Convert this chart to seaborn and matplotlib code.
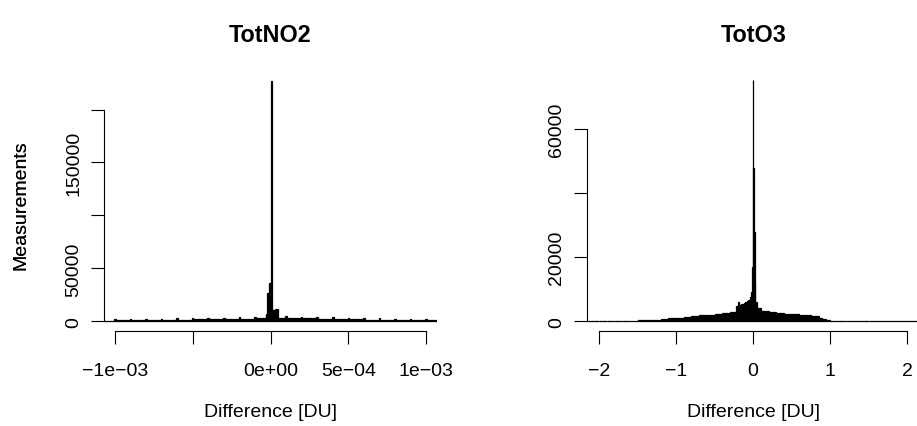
import numpy as np
import pandas as pd
import matplotlib
matplotlib.use("Agg")
import matplotlib.pyplot as plt
import seaborn as sns

# histogram bins (edges) and counts
no2_edges = [
    -0.0011, -0.001005, -0.000995, -0.000905, -0.000895, -0.000805, -0.000795,
    -0.000705, -0.000695, -0.000605, -0.000595, -0.000505, -0.000495,
    -0.000405, -0.000395, -0.000305, -0.000295, -0.000205, -0.000195,
    -0.000105, -0.000095,
    -0.00003, -0.00002, -0.00001, 0.0, 0.000007, 0.00003, 0.00005,
    0.000095, 0.000105, 0.000195, 0.000205, 0.000295, 0.000305,
    0.000395, 0.000405, 0.000495, 0.000505, 0.000595, 0.000605,
    0.000695, 0.000705, 0.000795, 0.000805, 0.000895, 0.000905,
    0.000995, 0.001005, 0.0011,
]
no2_counts = [
    600, 1800, 800, 2000, 1000, 2200, 1200, 2400, 1400, 2700,
    1600, 2900, 1800, 3200, 2000, 3500, 2300, 3800, 2600, 4500,
    2900, 7000, 27000, 36000, 227000, 11000, 12000, 3300,
    5000, 3000, 4300, 2700, 3900, 2400, 3600, 2100, 3300, 1900,
    3000, 1600, 2700, 1400, 2400, 1200, 2100, 1000, 1900, 800,
]

o3_edges = [
    -2.3, -2.0, -1.9, -1.8, -1.7, -1.6, -1.5, -1.4, -1.3, -1.2, -1.1, -1.0,
    -0.9, -0.8, -0.7, -0.6, -0.5, -0.4, -0.3, -0.24, -0.22, -0.2, -0.18,
    -0.16, -0.14, -0.12, -0.1, -0.08, -0.06, -0.04, -0.03, -0.015, -0.006,
    0.004, 0.012, 0.02, 0.03, 0.05, 0.1, 0.2, 0.3, 0.4, 0.5, 0.6, 0.7, 0.75,
    0.8, 0.85, 0.9, 0.95, 1.0, 1.2, 1.5, 2.3,
]
o3_counts = [
    50, 70, 90, 120, 160, 220, 300, 420, 560, 720, 900, 1100, 1350, 1600,
    1850, 2100, 2350, 2600, 2800, 3000, 4800, 5900, 5000, 5500, 5300, 5800,
    5900, 6200, 6600, 7500, 9000, 17000, 75500, 48000, 28000, 12000, 6000,
    4200, 3100, 2800, 2600, 2400, 2200, 2100, 1950, 1800, 1500, 1100, 600,
    300, 200, 130, 70,
]

no2_xticks = [-0.001, -0.0005, 0.0, 0.0005, 0.001]
no2_xlabels = ["\u22121e\u221203", "", "0e+00", "5e\u221204", "1e\u221203"]
no2_yticks = [0, 50000, 100000, 150000, 200000]
no2_ylabels = ["0", "50000", "", "150000", ""]

o3_xticks = [-2, -1, 0, 1, 2]
o3_xlabels = ["\u22122", "\u22121", "0", "1", "2"]
o3_yticks = [0, 20000, 40000, 60000]
o3_ylabels = ["0", "20000", "", "60000"]

sns.set_style("white")
plt.rcParams["font.family"] = ["Liberation Sans", "DejaVu Sans"]
plt.rcParams.update({
    "axes.linewidth": 0.8,
    "axes.edgecolor": "black",
    "text.color": "black",
    "axes.labelcolor": "black",
    "xtick.color": "black",
    "ytick.color": "black",
})

W, H = 917, 427
fig = plt.figure(figsize=(W / 100, H / 100), dpi=100)


def panel(left_px, edges, counts, xlim, ylim, xt, xl, yt, yl, title):
    ax = fig.add_axes([left_px / W, (H - 331.7) / H, 333 / W, 254 / H])
    e = np.array(edges)
    df = pd.DataFrame({"diff": (e[:-1] + e[1:]) / 2, "n": counts})
    sns.histplot(data=df, x="diff", weights="n", bins=list(edges),
                 color="black", edgecolor="black", linewidth=0.9, alpha=1,
                 ax=ax)
    ax.set_xlim(*xlim)
    ax.set_ylim(*ylim)
    for s in ["top", "right"]:
        ax.spines[s].set_visible(False)
    ax.spines["left"].set_bounds(yt[0], yt[-1])
    ax.spines["bottom"].set_bounds(xt[0], xt[-1])
    ax.set_xticks(xt, xl)
    ax.set_yticks(yt, yl, rotation=90, va="center")
    ax.tick_params(axis="both", direction="out", length=9.5, width=0.8,
                   labelsize=14, pad=6, bottom=True, left=True)
    ax.tick_params(axis="x", pad=13)
    ax.set_xlabel("Difference [DU]", fontsize=14, va="center")
    ax.set_ylabel("Measurements", fontsize=14, va="center")
    ax.xaxis.set_label_coords(0.5, (331.7 - 413) / 254)
    ax.yaxis.set_label_coords((20.5 - left_px) / 333, 0.5)
    ax.text(0.5, (331.7 - 36) / 254, title, transform=ax.transAxes,
            ha="center", va="center", fontsize=16.8, fontweight="bold")
    return ax


panel(104, no2_edges, no2_counts, (-0.00107, 0.00107), (-8900, 231000),
      no2_xticks, no2_xlabels, no2_yticks, no2_ylabels, "TotNO2")
panel(587, o3_edges, o3_counts, (-2.156, 2.166), (-2940, 76440),
      o3_xticks, o3_xlabels, o3_yticks, o3_ylabels, "TotO3")

fig.savefig("out.png", dpi=100)
